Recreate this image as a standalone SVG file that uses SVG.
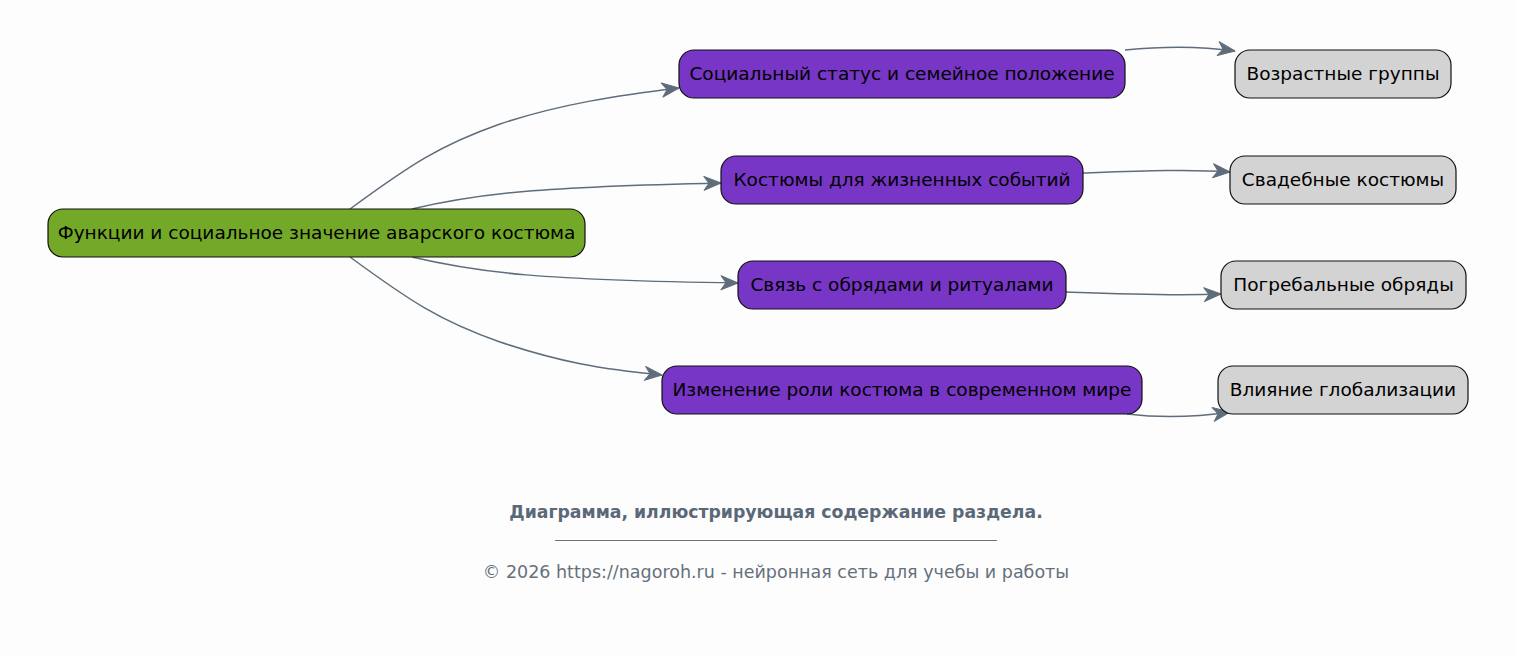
<svg xmlns="http://www.w3.org/2000/svg" width="1516" height="656" viewBox="0 0 1516 656">
<style>
.bg{fill:#fdfdfd}
.n rect{stroke:#111;stroke-width:1.2}
.root rect{fill:#74a828}
.mid rect{fill:#7736c5}
.leaf rect{fill:#d3d3d3}
.n text{font-family:"DejaVu Sans",sans-serif;font-size:18.5px;fill:#000;text-anchor:middle;dominant-baseline:central}
.e path{fill:none;stroke:#5f6d7b;stroke-width:1.5;marker-end:url(#ah)}
.cap{font-family:"DejaVu Sans",sans-serif;text-anchor:middle}
</style>
<defs>
<marker id="ah" viewBox="0 0 20 16" refX="18" refY="8" markerWidth="20" markerHeight="16" markerUnits="userSpaceOnUse" orient="auto">
<path d="M1,1 L18,8 L1,15 L6,8 Z" fill="#5f6d7b" stroke="#5f6d7b" stroke-width="1" stroke-linejoin="round"/>
</marker>
</defs>
<rect class="bg" width="1516" height="656"/>
<g id="connectors" class="e">
<path d="M350,209 C410,165 440,145 500,124 C560,104 620,95 679,88"/>
<path d="M412,209 C480,193 540,187 721,183"/>
<path d="M412,257 C480,273 540,280 738,283"/>
<path d="M350,257 C410,301 440,321 500,342 C560,362 600,369 662,375"/>
<path d="M1125,50 C1165,46 1200,46 1235,51"/>
<path d="M1083,173 C1140,171 1190,169 1230,172"/>
<path d="M1066,292 C1120,294 1170,296 1221,294"/>
<path d="M1127,414 C1160,418 1190,418 1230,412"/>
</g>
<g id="root" class="n root"><rect x="48" y="209" width="537" height="48" rx="15"/><text x="316.5" y="232">Функции и социальное значение аварского костюма</text></g>
<g id="n1" class="n mid"><rect x="679" y="50" width="446" height="48" rx="15"/><text x="902" y="73">Социальный статус и семейное положение</text></g>
<g id="n2" class="n mid"><rect x="721" y="156" width="362" height="48" rx="15"/><text x="902" y="179">Костюмы для жизненных событий</text></g>
<g id="n3" class="n mid"><rect x="738" y="261" width="328" height="48" rx="15"/><text x="902" y="284">Связь с обрядами и ритуалами</text></g>
<g id="n4" class="n mid"><rect x="662" y="366" width="480" height="48" rx="15"/><text x="902" y="389">Изменение роли костюма в современном мире</text></g>
<g id="g1" class="n leaf"><rect x="1235" y="50" width="216" height="48" rx="15"/><text x="1343" y="73">Возрастные группы</text></g>
<g id="g2" class="n leaf"><rect x="1230" y="156" width="226" height="48" rx="15"/><text x="1343" y="179">Свадебные костюмы</text></g>
<g id="g3" class="n leaf"><rect x="1221" y="261" width="245" height="48" rx="15"/><text x="1343.5" y="284">Погребальные обряды</text></g>
<g id="g4" class="n leaf"><rect x="1218" y="366" width="250" height="48" rx="15"/><text x="1343" y="389">Влияние глобализации</text></g>
<text class="cap" x="776" y="518" font-size="17.3px" font-weight="bold" fill="#5a6878">Диаграмма, иллюстрирующая содержание раздела.</text>
<line x1="555" y1="540.5" x2="997" y2="540.5" stroke="#6a7480" stroke-width="1"/>
<text class="cap" x="776" y="578" font-size="17.5px" fill="#66707c">© 2026 https://nagoroh.ru - нейронная сеть для учебы и работы</text>
</svg>
